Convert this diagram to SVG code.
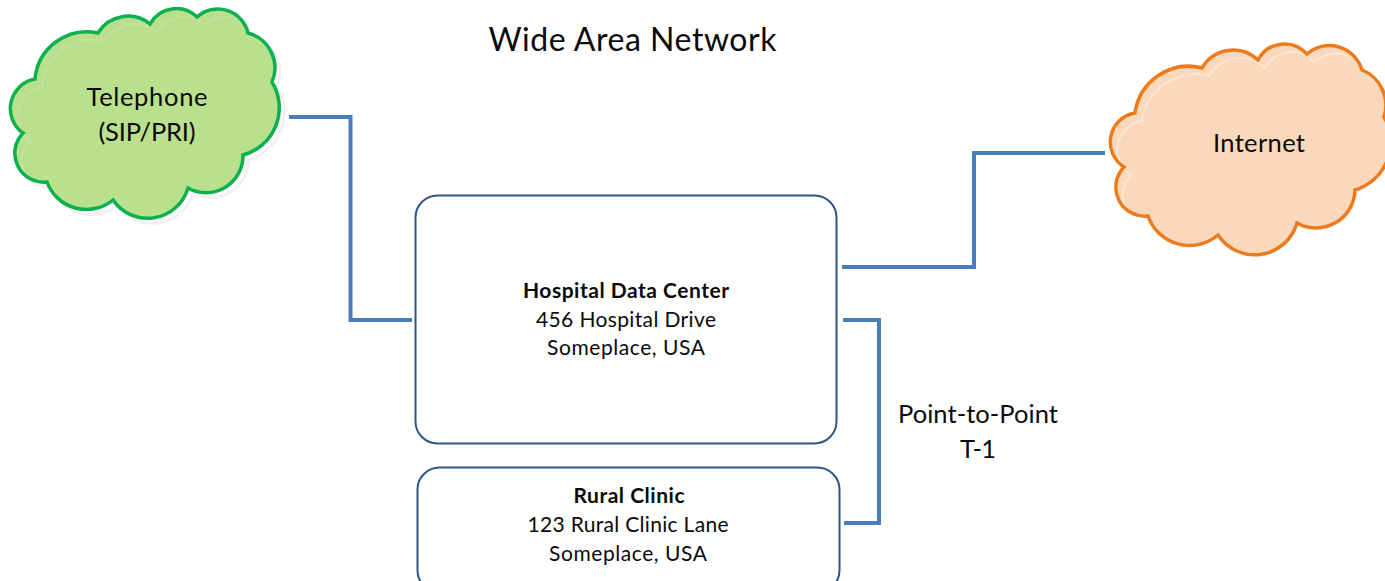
<svg xmlns="http://www.w3.org/2000/svg" xmlns:xlink="http://www.w3.org/1999/xlink" width="1385" height="581" viewBox="0 0 1385 581">
<style>
text{font-family:"Lato","Carlito","Liberation Sans",sans-serif;fill:#0a0a0a;text-anchor:middle}
.t{font-size:25.500px}.s{font-size:21px}.b{font-weight:700}
.box{fill:#fff;stroke:#2f5488;stroke-width:2}
.conn{fill:none;stroke:#4a7ebb;stroke-width:4}
.shadow{fill:none;stroke:#f1f1f1;stroke-width:3}
</style>
<defs>
<path id="gc" d="M35 79A52 52 0 0 1 98 33A35 35 0 0 1 150 24A30 30 0 0 1 197 17A31 31 0 0 1 248 33A36 36 0 0 1 272 82A49 49 0 0 1 243 155A37 37 0 0 1 188 188A42 42 0 0 1 113 200A42 42 0 0 1 47 182A29 29 0 0 1 23 133A30 30 0 0 1 35 79Z"/>
<path id="oc" d="M1135 113A54 54 0 0 1 1202 68A36 36 0 0 1 1258 60A30 30 0 0 1 1307 54A34 34 0 0 1 1362 70A38 38 0 0 1 1384 117A50 50 0 0 1 1355 190A39 39 0 0 1 1297 223A44 44 0 0 1 1218 235A44 44 0 0 1 1148 216A29 29 0 0 1 1124 167A29.500 29.500 0 0 1 1135 113Z"/>
<clipPath id="gclip"><use xlink:href="#gc"/></clipPath>
<clipPath id="oclip"><use xlink:href="#oc"/></clipPath>
</defs>
<g id="connectors">
<path class="conn" d="M289 117H350.500V320H412"/>
<path class="conn" d="M842 267H974V153H1105"/>
<path class="conn" d="M843 320H879V523H844"/>
</g>
<g id="telephone">
<use xlink:href="#gc" class="shadow" transform="translate(5 5)"/>
<use xlink:href="#gc" fill="#b9e08d"/>
<g clip-path="url(#gclip)"><use xlink:href="#gc" fill="none" stroke="#c2e39c" stroke-width="2" transform="translate(7 8)"/></g>
<use xlink:href="#gc" fill="none" stroke="#0cb04f" stroke-width="3.500"/>
<text class="t" x="147" y="106" textLength="121" lengthAdjust="spacing">Telephone</text>
<text class="t" x="147" y="141" textLength="97" lengthAdjust="spacing">(SIP/PRI)</text>
</g>
<g id="internet">
<use xlink:href="#oc" fill="#fad8bb"/>
<g clip-path="url(#oclip)"><use xlink:href="#oc" fill="none" stroke="#fde6d3" stroke-width="2" transform="translate(7 8)"/></g>
<use xlink:href="#oc" fill="none" stroke="#ed7a1c" stroke-width="3.500"/>
<text class="t" x="1259" y="152" textLength="92" lengthAdjust="spacing">Internet</text>
</g>
<text id="title" x="632.500" y="51" font-size="32" textLength="288" lengthAdjust="spacing">Wide Area Network</text>
<g id="hospital">
<rect class="box" x="415.500" y="195.500" width="421" height="248" rx="22"/>
<text class="s b" x="626" y="298" textLength="206" lengthAdjust="spacing">Hospital Data Center</text>
<text class="s" x="626" y="327" textLength="180" lengthAdjust="spacing">456 Hospital Drive</text>
<text class="s" x="626" y="355" textLength="158" lengthAdjust="spacing">Someplace, USA</text>
</g>
<g id="clinic">
<rect class="box" x="417.500" y="467.500" width="422" height="125" rx="22"/>
<text class="s b" x="629" y="503" textLength="111" lengthAdjust="spacing">Rural Clinic</text>
<text class="s" x="628" y="532" textLength="201" lengthAdjust="spacing">123 Rural Clinic Lane</text>
<text class="s" x="628" y="561" textLength="158" lengthAdjust="spacing">Someplace, USA</text>
</g>
<g id="labels">
<text class="t" x="978" y="423" textLength="160" lengthAdjust="spacing">Point-to-Point</text>
<text class="t" x="978" y="458" textLength="36" lengthAdjust="spacing">T-1</text>
</g>
</svg>
